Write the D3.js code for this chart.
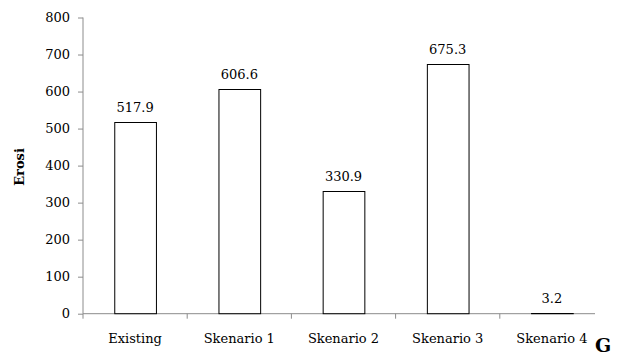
<!DOCTYPE html>
<html>
<head>
<meta charset="utf-8">
<script src="https://cdn.jsdelivr.net/npm/d3@7"></script>
<style>
  html, body { margin: 0; padding: 0; background: #fff; }
  svg { display: block; }
  text { font-family: "DejaVu Serif", "Liberation Serif", serif; fill: #000; }
</style>
</head>
<body>
<script>
// Erosion totals per scenario
const categories = ["Existing", "Skenario 1", "Skenario 2", "Skenario 3", "Skenario 4"];
const erosi = [517.9, 606.6, 330.9, 675.3, 3.2];
const yTicks = [0, 100, 200, 300, 400, 500, 600, 700, 800];

const width = 618, height = 356;
const fontSize = "13px";
const svg = d3.select("body").append("svg")
  .attr("width", width).attr("height", height);

const x = d3.scaleBand()
  .domain(categories)
  .range([83, 604])
  .paddingInner(0.6)
  .paddingOuter(0.3);

const y = d3.scaleLinear()
  .domain([0, 800])
  .range([313.7, 17.5]);

const axisColor = "#8c8c8c";

// Y axis
const yAxis = svg.append("g")
  .attr("transform", "translate(83,0)")
  .call(d3.axisLeft(y).tickValues(yTicks).tickSize(5).tickPadding(8).tickFormat(d3.format("d")));
yAxis.select(".domain").attr("stroke", axisColor).attr("d", `M0,${y(800)}V${y(0)}`);
yAxis.selectAll(".tick line").attr("stroke", axisColor);
yAxis.selectAll(".tick text")
  .style("font-family", '"DejaVu Serif", serif')
  .style("font-size", fontSize)
  .attr("fill", "#000");

// X axis line with category boundary ticks
const xg = svg.append("g");
xg.append("line")
  .attr("x1", 83).attr("x2", 595)
  .attr("y1", y(0)).attr("y2", y(0))
  .attr("stroke", axisColor).attr("stroke-width", 1);
xg.selectAll("line.cat")
  .data(categories)
  .join("line")
  .attr("class", "cat")
  .attr("x1", d => x(d) - x.step() * x.paddingInner() / 2)
  .attr("x2", d => x(d) - x.step() * x.paddingInner() / 2)
  .attr("y1", y(0)).attr("y2", y(0) + 5)
  .attr("stroke", axisColor);
xg.selectAll("text.cat")
  .data(categories)
  .join("text")
  .attr("class", "cat")
  .attr("x", d => x(d) + x.bandwidth() / 2)
  .attr("y", 342.5)
  .attr("text-anchor", "middle")
  .style("font-size", fontSize)
  .text(d => d);

// Bars
svg.selectAll("rect.bar")
  .data(erosi)
  .join("rect")
  .attr("class", "bar")
  .attr("x", (d, i) => x(categories[i]) + 0.5)
  .attr("y", d => Math.round(y(d)) + 0.5)
  .attr("width", x.bandwidth())
  .attr("height", d => Math.max(0, y(0) - Math.round(y(d)) - 0.5))
  .attr("fill", "#fff")
  .attr("stroke", "#000")
  .attr("stroke-width", 1);

// Value labels
svg.selectAll("text.val")
  .data(erosi)
  .join("text")
  .attr("class", "val")
  .attr("x", (d, i) => x(categories[i]) + x.bandwidth() / 2)
  .attr("y", d => y(d) - 10)
  .attr("text-anchor", "middle")
  .style("font-size", fontSize)
  .text(d => d.toFixed(1));

// Y axis title
svg.append("text")
  .attr("transform", "translate(24,167) rotate(-90)")
  .attr("text-anchor", "middle")
  .style("font-size", fontSize)
  .style("font-weight", "bold")
  .text("Erosi");

// Panel letter
svg.append("text")
  .attr("x", 603)
  .attr("y", 352)
  .attr("text-anchor", "middle")
  .style("font-size", "19px")
  .style("font-weight", "bold")
  .text("G");
</script>
</body>
</html>
